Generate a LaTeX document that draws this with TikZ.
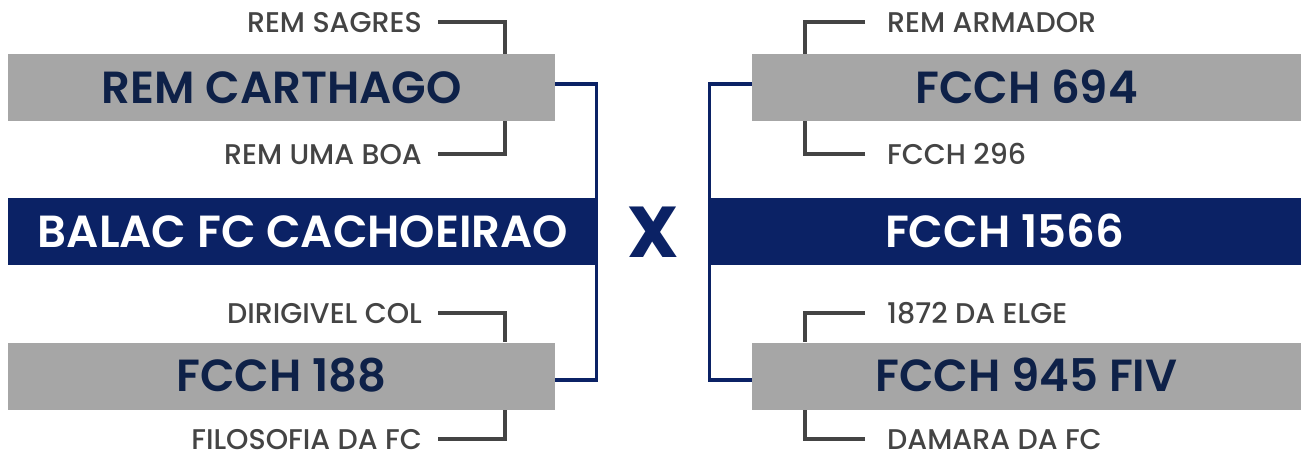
\documentclass[tikz,border=0pt]{standalone}
\usepackage{fontspec}
\setmainfont{Poppins}
\newfontfamily\medfont{Poppins}[UprightFont=* Medium]
\newfontfamily\semifont{Poppins}[UprightFont=* SemiBold]
\usetikzlibrary{positioning,calc}
\definecolor{navy}{HTML}{0B2265}
\definecolor{ink}{HTML}{0E2148}
\definecolor{boxg}{HTML}{A6A6A6}
\definecolor{lineg}{HTML}{444444}
\tikzset{
  club/.style={fill=boxg, text=ink, font=\semifont\fontsize{45}{45}\selectfont, minimum height=67pt, inner sep=0pt, text height=31pt, text depth=0pt},
  final/.style={fill=navy, text=white, font=\semifont\fontsize{45}{45}\selectfont, minimum height=67pt, inner sep=0pt, text height=31pt, text depth=0pt},
  prev/.style={text=lineg, font=\medfont\fontsize{28.5}{28.5}\selectfont, inner sep=0pt, text height=20pt, text depth=0pt},
  tick/.style={lineg, line width=3.5pt},
  link/.style={navy, line width=3.5pt},
}

\begin{document}
\begin{tikzpicture}[x=1pt,y=-1pt]
 \useasboundingbox (0,0) rectangle (1301,456);
 % left side
 \node[final, minimum width=590pt] (balac) at (303,231.5) {BALAC FC CACHOEIRAO};
 \node[club, minimum width=547pt] (carthago) at (281.5,87.5) {REM CARTHAGO};
 \node[club, minimum width=547pt] (f188) at (281.5,376) {FCCH 188};
 \node[prev, anchor=east] (sagres) at (422,22) {REM SAGRES};
 \node[prev, anchor=east] (umaboa) at (422,154) {REM UMA BOA};
 \node[prev, anchor=east] (dirig) at (422,313) {DIRIGIVEL COL};
 \node[prev, anchor=east] (filo) at (422,439) {FILOSOFIA DA FC};
 % right side
 \node[final, minimum width=593pt] (f1566) at (1004.5,231.5) {FCCH 1566};
 \node[club, minimum width=549pt] (f694) at (1026.5,87.5) {FCCH 694};
 \node[club, minimum width=549pt] (f945) at (1026.5,376) {FCCH 945 FIV};
 \node[prev, anchor=west] (armador) at (887,22) {REM ARMADOR};
 \node[prev, anchor=west] (f296) at (887,154) {FCCH 296};
 \node[prev, anchor=west] (elge) at (887,313) {1872 DA ELGE};
 \node[prev, anchor=west] (damara) at (887,439) {DAMARA DA FC};
 % versus
 \node[text=navy, font=\bfseries\fontsize{72}{72}\selectfont, inner sep=0pt, text height=52pt, text depth=0pt] (vs) at (653,231.5) {X};
 % earlier rounds
 \draw[tick] ([xshift=16pt]sagres.east) -| ([xshift=-50pt]carthago.north east);
 \draw[tick] ([xshift=16pt]umaboa.east) -| ([xshift=-50pt]carthago.south east);
 \draw[tick] ([xshift=16pt]dirig.east) -| ([xshift=-50pt]f188.north east);
 \draw[tick] ([xshift=16pt]filo.east) -| ([xshift=-50pt]f188.south east);
 \draw[tick] ([xshift=-22pt]armador.west) -| ([xshift=53pt]f694.north west);
 \draw[tick] ([xshift=-22pt]f296.west) -| ([xshift=53pt]f694.south west);
 \draw[tick] ([xshift=-22pt]elge.west) -| ([xshift=53pt]f945.north west);
 \draw[tick] ([xshift=-22pt]damara.west) -| ([xshift=53pt]f945.south west);
 % semifinals
 \draw[link] ([yshift=3.5pt]carthago.east) -| ([xshift=-1.75pt]balac.north east);
 \draw[link] ([yshift=-4pt]f188.east) -| ([xshift=-1.75pt]balac.south east);
 \draw[link] ([yshift=3.5pt]f694.west) -| ([xshift=1.75pt]f1566.north west);
 \draw[link] ([yshift=-4pt]f945.west) -| ([xshift=1.75pt]f1566.south west);
\end{tikzpicture}
\end{document}
